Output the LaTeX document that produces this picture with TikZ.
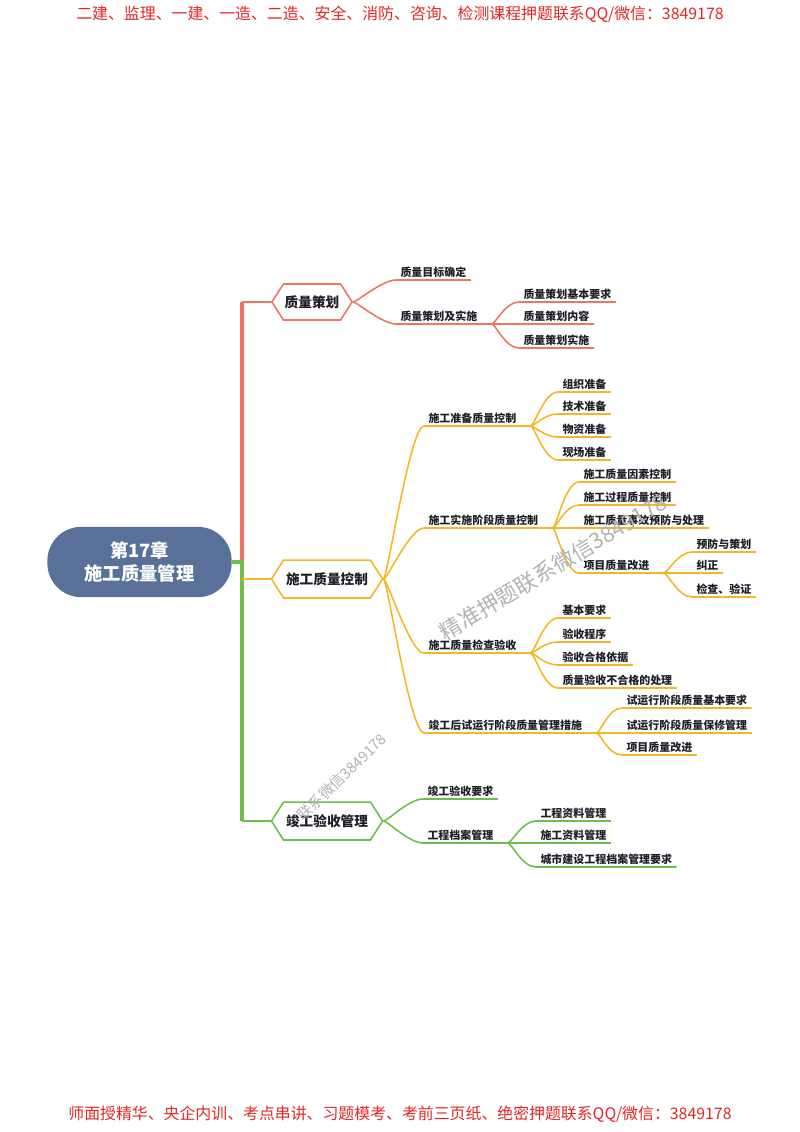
\documentclass[tikz,border=0pt]{standalone}
\usepackage{fontspec}
\setmainfont{Noto Sans CJK SC}
\usetikzlibrary{positioning, shapes.symbols}

\definecolor{rootblue}{RGB}{89,113,152}
\definecolor{brred}{RGB}{240,116,98}
\definecolor{bryellow}{RGB}{242,183,35}
\definecolor{brgreen}{RGB}{110,190,75}
\definecolor{adred}{RGB}{228,38,38}
\definecolor{inkdark}{RGB}{30,30,40}
\definecolor{wmgray}{RGB}{178,178,178}

\tikzset{
  root_node/.style={
      rectangle, rounded corners=24pt,
      fill=rootblue, text=white,
      minimum width=131pt, minimum height=50pt,
      align=center,
      font=\fontsize{13}{16.4}\selectfont\bfseries,
    },
  topic/.style={
      signal, signal to=west and east,
      signal pointer angle=115,
      draw=#1, line width=1.1pt, fill=white,
      text=inkdark, inner sep=0pt,
      font=\fontsize{9.7}{11}\selectfont\bfseries,
    },
  leaf/.style={
      anchor=south west,
      inner xsep=3pt, inner ysep=1.5pt,
      text=inkdark,
      font=\fontsize{7.8}{9}\selectfont\bfseries,
    },
  twig/.style={line width=1.1pt},
  spine/.style={line width=2.8pt},
  bough/.style={
      to path={.. controls +(4,0) and +(-14,0) .. (\tikztotarget)}
    },
  notice/.style={text=adred, font=\fontsize{11.3}{13}\selectfont},
  watermark/.style={text=wmgray, font=\fontsize{#1}{#1}\selectfont},
}

\begin{document}
\begin{tikzpicture}[x=0.025cm, y=-0.025cm]
  \useasboundingbox (0,0) rectangle (800,1132);

  % banners
  \node[notice] (top_ad) at (400,14) {二建、监理、一建、一造、二造、安全、消防、咨询、检测课程押题联系QQ/微信：3849178};
  \node[notice] (bottom_ad) at (400,1114) {师面授精华、央企内训、考点串讲、习题模考、考前三页纸、绝密押题联系QQ/微信：3849178};

  % root and main topics
  \node[root_node] (root) at (139.5,562) {第17章\\施工质量管理};
  \node[topic=brred, minimum width=57pt, minimum height=25.6pt] (plan) at (312,302) {质量策划};
  \node[topic=bryellow, minimum width=79pt, minimum height=27pt] (ctrl) at (327,579) {施工质量控制};
  \node[topic=brgreen, minimum width=79pt, minimum height=27pt] (accept) at (327,821) {竣工验收管理};

  % spine
  \coordinate (hub) at (242,562);
  \draw[spine, brred] (root.east) -- (hub) -- (hub |- plan.west);
  \draw[spine, brgreen] (root.east) -- (hub) -- (hub |- accept.west);
  \draw[twig, brred] (hub |- plan.west) -- (plan.west);
  \draw[twig, bryellow] (hub |- ctrl.west) -- (ctrl.west);
  \draw[twig, brgreen] (hub |- accept.west) -- (accept.west);

  % quality planning
  \node[leaf] (pgoal) at (396,280) {质量目标确定};
  \node[leaf] (pimpl) at (396,324) {质量策划及实施};
  \node[leaf] (preq) at (519,302) {质量策划基本要求};
  \node[leaf] (pcont) at (519,324) {质量策划内容};
  \node[leaf] (pexec) at (519,348) {质量策划实施};
  \coordinate (pimplf) at ([xshift=7pt]pimpl.south east);
  \foreach \kid in {pgoal, pimpl}
    \draw[twig, brred] (plan.east) to[bough] (\kid.south west) -- (\kid.south east);
  \draw[twig, brred] (pimpl.south east) -- (pimplf);
  \foreach \kid in {preq, pcont, pexec}
    \draw[twig, brred] (pimplf) to[bough] (\kid.south west) -- (\kid.south east);

  % construction quality control
  \node[leaf] (cprep) at (424,426) {施工准备质量控制};
  \node[leaf] (cexec) at (424,528) {施工实施阶段质量控制};
  \node[leaf] (cinsp) at (424,653) {施工质量检查验收};
  \node[leaf] (ctrial) at (424,733) {竣工后试运行阶段质量管理措施};
  \foreach \kid in {cprep, cexec, cinsp, ctrial}
    \draw[twig, bryellow] (ctrl.east) to[bough] (\kid.south west) -- (\kid.south east);

  \node[leaf] (org) at (558,392) {组织准备};
  \node[leaf] (tech) at (558,414) {技术准备};
  \node[leaf] (mat) at (558,437) {物资准备};
  \node[leaf] (site) at (558,460) {现场准备};
  \coordinate (cprepf) at ([xshift=7pt]cprep.south east);
  \draw[twig, bryellow] (cprep.south east) -- (cprepf);
  \foreach \kid in {org, tech, mat, site}
    \draw[twig, bryellow] (cprepf) to[bough] (\kid.south west) -- (\kid.south east);

  \node[leaf] (factor) at (579,482) {施工质量因素控制};
  \node[leaf] (process) at (579,505) {施工过程质量控制};
  \node[leaf] (accident) at (579,528) {施工质量事故预防与处理};
  \node[leaf] (improve) at (579,573) {项目质量改进};
  \coordinate (cexecf) at ([xshift=7pt]cexec.south east);
  \draw[twig, bryellow] (cexec.south east) -- (cexecf);
  \foreach \kid in {factor, process, accident, improve}
    \draw[twig, bryellow] (cexecf) to[bough] (\kid.south west) -- (\kid.south east);

  \node[leaf] (prevent) at (692,552) {预防与策划};
  \node[leaf] (correct) at (692,573) {纠正};
  \node[leaf] (verify) at (692,597) {检查、验证};
  \coordinate (improvef) at ([xshift=7pt]improve.south east);
  \draw[twig, bryellow] (improve.south east) -- (improvef);
  \foreach \kid in {prevent, correct, verify}
    \draw[twig, bryellow] (improvef) to[bough] (\kid.south west) -- (\kid.south east);

  \node[leaf] (basic) at (558,618) {基本要求};
  \node[leaf] (proc) at (558,642) {验收程序};
  \node[leaf] (basis) at (558,665) {验收合格依据};
  \node[leaf] (reject) at (558,688) {质量验收不合格的处理};
  \coordinate (cinspf) at ([xshift=7pt]cinsp.south east);
  \draw[twig, bryellow] (cinsp.south east) -- (cinspf);
  \foreach \kid in {basic, proc, basis, reject}
    \draw[twig, bryellow] (cinspf) to[bough] (\kid.south west) -- (\kid.south east);

  \node[leaf] (treq) at (622,708) {试运行阶段质量基本要求};
  \node[leaf] (twarr) at (622,733) {试运行阶段质量保修管理};
  \node[leaf] (timpr) at (622,755) {项目质量改进};
  \coordinate (ctrialf) at ([xshift=7pt]ctrial.south east);
  \draw[twig, bryellow] (ctrial.south east) -- (ctrialf);
  \foreach \kid in {treq, twarr, timpr}
    \draw[twig, bryellow] (ctrialf) to[bough] (\kid.south west) -- (\kid.south east);

  % completion acceptance
  \node[leaf] (areq) at (423,799) {竣工验收要求};
  \node[leaf] (arch) at (423,843) {工程档案管理};
  \foreach \kid in {areq, arch}
    \draw[twig, brgreen] (accept.east) to[bough] (\kid.south west) -- (\kid.south east);

  \node[leaf] (eng) at (536,821) {工程资料管理};
  \node[leaf] (cons) at (536,843) {施工资料管理};
  \node[leaf] (city) at (536,867) {城市建设工程档案管理要求};
  \coordinate (archf) at ([xshift=7pt]arch.south east);
  \draw[twig, brgreen] (arch.south east) -- (archf);
  \foreach \kid in {eng, cons, city}
    \draw[twig, brgreen] (archf) to[bough] (\kid.south west) -- (\kid.south east);

  % watermarks
  \node[watermark=15.6, rotate=31] (wm_a) at (553,567) {精准押题联系微信3849178};
  \node[watermark=10.5, rotate=44] (wm_b) at (342,777) {联系微信3849178};
\end{tikzpicture}
\end{document}
